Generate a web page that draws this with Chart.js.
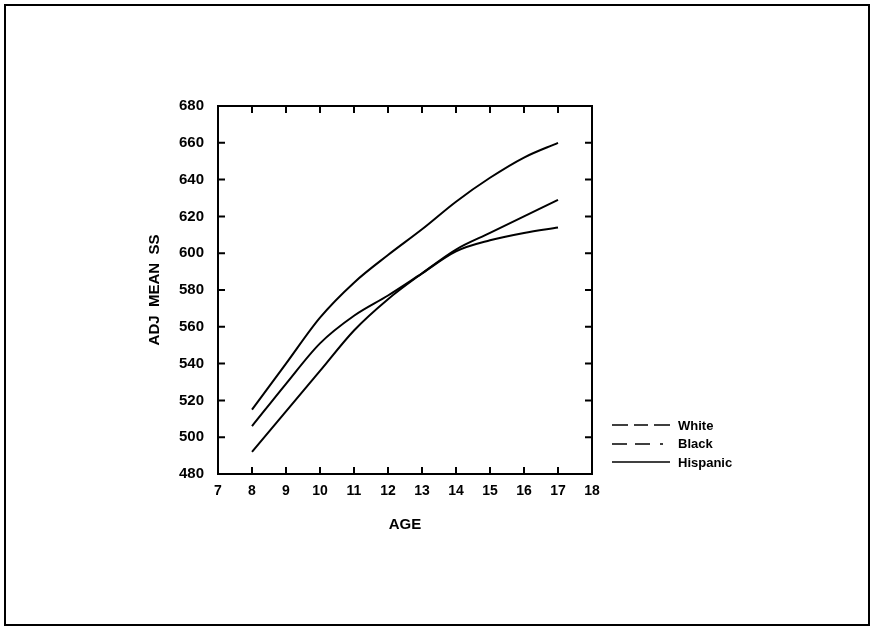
<!DOCTYPE html>
<html>
<head>
<meta charset="utf-8">
<script src="https://cdn.jsdelivr.net/npm/chart.js@4/dist/chart.umd.min.js"></script>
<style>
  html, body { margin: 0; padding: 0; background: #fff; }
  #wrap { position: relative; width: 875px; height: 631px; overflow: hidden; }
  #frame { position: absolute; left: 4px; top: 4px; width: 862px; height: 618px; border: 2px solid #000; box-sizing: content-box; }
  canvas { position: absolute; left: 0; top: 0; }
  #legend { position: absolute; left: 612px; top: 416px; font-family: "Liberation Sans", Arial, sans-serif; font-size: 13px; font-weight: bold; color: #000; }
  .row { display: flex; align-items: center; height: 18.5px; }
  .row svg { width: 58px; height: 4px; margin-right: 8px; }
</style>
</head>
<body>
<div id="wrap">
  <div id="frame"></div>
  <canvas id="c" width="875" height="631"></canvas>
  <div id="legend"></div>
</div>
<script>
const ages = [8, 9, 10, 11, 12, 13, 14, 15, 16, 17];
const seriesNames = ["White", "Black", "Hispanic"];
const whiteValues = [515, 540, 565, 584, 599, 613, 628, 641, 652, 660];
const blackValues = [506, 529, 551, 566, 577, 589, 601, 607, 611, 614];
const hispanicValues = [492, 514, 536, 558, 575, 589, 602, 611, 620, 629];
const xTicks = [7, 8, 9, 10, 11, 12, 13, 14, 15, 16, 17, 18];
const yTicks = [480, 500, 520, 540, 560, 580, 600, 620, 640, 660, 680];
const legendDashes = ["16,6,14,6,16", "15,8,15,10,3,100", ""];

const FONT = "'Liberation Sans', Arial, sans-serif";

function pts(vals) { return ages.map((a, i) => ({ x: a, y: vals[i] })); }

const frameTicks = {
  id: 'frameTicks',
  afterDatasetsDraw(chart) {
    const { ctx, chartArea: a, scales } = chart;
    ctx.save();
    ctx.strokeStyle = '#000';
    ctx.lineWidth = 2;
    ctx.strokeRect(a.left, a.top, a.right - a.left, a.bottom - a.top);
    const L = 7;
    ctx.beginPath();
    xTicks.forEach(v => {
      const x = scales.x.getPixelForValue(v);
      ctx.moveTo(x, a.bottom); ctx.lineTo(x, a.bottom - L);
      ctx.moveTo(x, a.top); ctx.lineTo(x, a.top + L);
    });
    yTicks.forEach(v => {
      const y = scales.y.getPixelForValue(v);
      ctx.moveTo(a.left, y); ctx.lineTo(a.left + L, y);
      ctx.moveTo(a.right, y); ctx.lineTo(a.right - L, y);
    });
    ctx.stroke();
    ctx.restore();
  }
};

const mk = (label, vals) => ({
  label, data: pts(vals), borderColor: '#000', borderWidth: 2,
  pointRadius: 0, fill: false, cubicInterpolationMode: 'monotone'
});

new Chart(document.getElementById('c'), {
  type: 'line',
  data: { datasets: [mk(seriesNames[0], whiteValues), mk(seriesNames[1], blackValues), mk(seriesNames[2], hispanicValues)] },
  options: {
    responsive: false, animation: false,
    layout: { padding: { left: 146, top: 106, right: 283, bottom: 97 } },
    plugins: { legend: { display: false }, tooltip: { enabled: false } },
    scales: {
      x: {
        type: 'linear', min: 7, max: 18,
        afterBuildTicks: s => { s.ticks = xTicks.map(v => ({ value: v })); },
        afterFit: s => { s.height = 60; },
        grid: { display: false, drawTicks: false },
        border: { display: false },
        ticks: { color: '#000', padding: 9, font: { family: FONT, size: 14, weight: 'bold' }, maxRotation: 0, autoSkip: false },
        title: { display: true, text: 'AGE', color: '#000', padding: 0, font: { family: FONT, size: 15, weight: 'bold' } }
      },
      y: {
        type: 'linear', min: 480, max: 680,
        afterBuildTicks: s => { s.ticks = yTicks.map(v => ({ value: v })); },
        afterFit: s => { s.width = 72; },
        grid: { display: false, drawTicks: false },
        border: { display: false },
        ticks: { color: '#000', padding: 14, font: { family: FONT, size: 15, weight: 'bold' }, autoSkip: false },
        title: { display: true, text: 'ADJ  MEAN  SS', color: '#000', padding: 0, font: { family: FONT, size: 15, weight: 'bold' } }
      }
    }
  },
  plugins: [frameTicks]
});

const lg = document.getElementById('legend');
seriesNames.forEach((n, i) => {
  const row = document.createElement('div');
  row.className = 'row';
  row.innerHTML = '<svg viewBox="0 0 58 4"><line x1="0" y1="2" x2="58" y2="2" stroke="#000" stroke-width="1.6"' +
    (legendDashes[i] ? ' stroke-dasharray="' + legendDashes[i] + '"' : '') + '/></svg><span>' + n + '</span>';
  lg.appendChild(row);
});
</script>
</body>
</html>
